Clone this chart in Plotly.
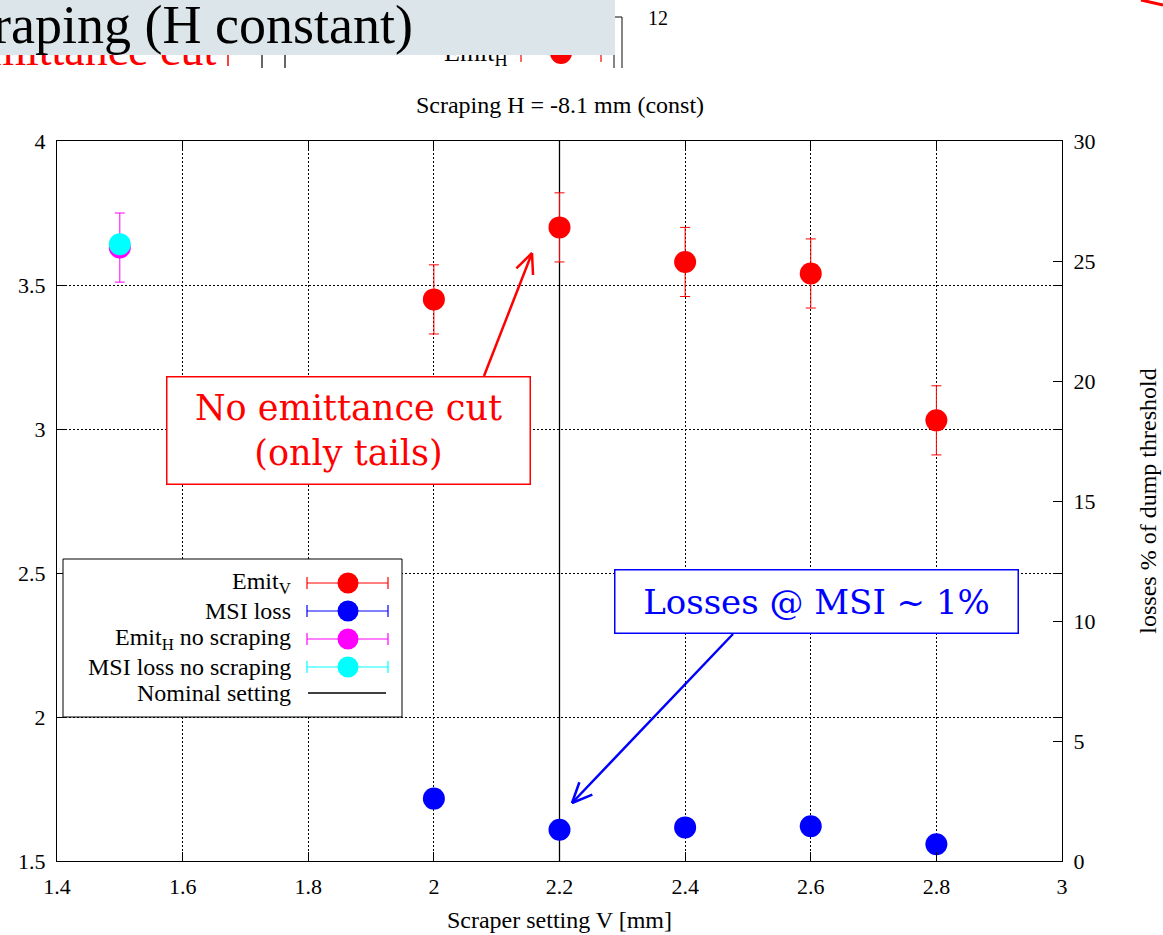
import math
import plotly.graph_objects as go

# --- measured values -------------------------------------------------------
scraper_v = [2.0, 2.2, 2.4, 2.6, 2.8]            # scraper setting V [mm]
emit_v = [3.45, 3.70, 3.58, 3.54, 3.03]          # vertical emittance
emit_v_err = [0.12, 0.12, 0.12, 0.12, 0.12]
msi_loss = [2.6, 1.3, 1.4, 1.45, 0.7]            # losses, % of dump threshold

ref_v = [1.5]                                    # reference point without scraping
emit_h_noscrape = [3.63]
emit_h_noscrape_err = [0.12]
msi_loss_noscrape = [25.7]

nominal_v = 2.2                                  # nominal scraper setting

x_ticks = [1.4, 1.6, 1.8, 2.0, 2.2, 2.4, 2.6, 2.8, 3.0]
y_ticks = [1.5, 2.0, 2.5, 3.0, 3.5, 4.0]
y2_ticks = [0, 5, 10, 15, 20, 25, 30]

# --- page geometry (pixels) -------------------------------------------------
W, H = 1163, 935
PL, PR, PT, PB = 57, 1062, 141, 861
GP = "Liberation Serif"
SLIDE = "DejaVu Serif"


def px(x):
    return (x - PL) / (PR - PL)


def py(y):
    return (PB - y) / (PB - PT)


fig = go.Figure()

fig.add_trace(go.Scatter(
    x=[nominal_v, nominal_v], y=[y_ticks[0], y_ticks[-1]], mode="lines",
    line=dict(color="black", width=1.3), name="Nominal setting"))

fig.add_trace(go.Scatter(
    x=scraper_v, y=emit_v, mode="markers", name="Emit_V",
    marker=dict(color="#ff0000", size=22),
    error_y=dict(type="data", array=emit_v_err, color="#ff0000",
                 thickness=1, width=5)))

fig.add_trace(go.Scatter(
    x=scraper_v, y=msi_loss, mode="markers", name="MSI loss", yaxis="y2",
    marker=dict(color="#0000ff", size=22)))

fig.add_trace(go.Scatter(
    x=ref_v, y=emit_h_noscrape, mode="markers", name="Emit_H no scraping",
    marker=dict(color="#ff00ff", size=22),
    error_y=dict(type="data", array=emit_h_noscrape_err, color="#ff00ff",
                 thickness=1, width=5)))

fig.add_trace(go.Scatter(
    x=ref_v, y=msi_loss_noscrape, mode="markers", name="MSI loss no scraping",
    yaxis="y2", marker=dict(color="#00ffff", size=22)))

shapes = []
annotations = []


def seg(x0, y0, x1, y1, color, width):
    shapes.append(dict(type="line", xref="paper", yref="paper",
                       x0=px(x0), y0=py(y0), x1=px(x1), y1=py(y1),
                       line=dict(color=color, width=width), layer="above"))


def dot(cx, cy, d, color):
    shapes.append(dict(type="circle", xref="paper", yref="paper",
                       xsizemode="pixel", ysizemode="pixel",
                       xanchor=px(cx), yanchor=py(cy),
                       x0=-d / 2, x1=d / 2, y0=-d / 2, y1=d / 2,
                       fillcolor=color, line=dict(width=0), layer="above"))


def arrow(x0, y0, x1, y1, color, width, head=22, spread=24):
    seg(x0, y0, x1, y1, color, width)
    ang = math.atan2(y0 - y1, x0 - x1)
    for s in (-1, 1):
        a = ang + s * math.radians(spread)
        seg(x1, y1, x1 + head * math.cos(a), y1 + head * math.sin(a), color, width)


def text(x, y, s, size, color="black", family=GP, xanchor="center",
         yanchor="middle", **kw):
    annotations.append(dict(xref="paper", yref="paper", x=px(x), y=py(y),
                            text=s, showarrow=False, xanchor=xanchor,
                            yanchor=yanchor,
                            font=dict(family=family, size=size, color=color),
                            **kw))


# --- key box drawn inside the plot ------------------------------------------
shapes.append(dict(type="rect", xref="paper", yref="paper",
                   x0=px(63), x1=px(402), y0=py(559), y1=py(717),
                   fillcolor="white", line=dict(color="black", width=1),
                   layer="above"))
key_rows = [
    ("Emit<sub>V</sub>", "#ff0000", 583),
    ("MSI loss", "#0000ff", 611),
    ("Emit<sub>H</sub> no scraping", "#ff00ff", 639),
    ("MSI loss no scraping", "#00ffff", 667),
]
for label, col, yy in key_rows:
    seg(307, yy, 388, yy, col, 1.2)
    seg(307, yy - 6, 307, yy + 6, col, 1.2)
    seg(388, yy - 6, 388, yy + 6, col, 1.2)
    dot(348, yy, 21, col)
    text(293, yy, label, 24, xanchor="right")
seg(308, 693, 386, 693, "black", 1.3)
text(293, 693, "Nominal setting", 24, xanchor="right")

# --- callouts ---------------------------------------------------------------
arrow(484, 376, 532, 253, "#ff0000", 2.5)
arrow(733, 634, 572, 803, "#0000ff", 2.5)
text(348.5, 430.5, "No emittance cut<br>(only tails)", 35, color="#ff0000",
     family=SLIDE, bgcolor="white", bordercolor="#ff0000", borderwidth=1.5,
     width=360, height=104, borderpad=1, align="center")
text(816.5, 601.5, "Losses @ MSI ~ 1%", 34, color="#0000ff",
     family=SLIDE, bgcolor="white", bordercolor="#0000ff", borderwidth=1.5,
     width=400, height=60, borderpad=1, align="center")

# --- slide header and what shows of the previous chart below it -------------
text(218, 49, "No emittance cut", 46, color="#ff0000", family=GP,
     xanchor="right")
seg(228, 55, 228, 66, "#ff0000", 1.5)
seg(262, 55, 262, 68, "black", 1.2)
seg(285, 55, 285, 68, "black", 1.2)
text(510, 54, "Emit<sub>H</sub>", 26, xanchor="right")
seg(521, 52, 521, 62, "#ff0000", 1.2)
seg(601, 52, 601, 62, "#ff0000", 1.2)
dot(561, 53, 22, "#ff0000")
seg(614, 28, 614, 68, "#333333", 1.2)
seg(606, 28, 614, 28, "#333333", 1.2)
seg(622, 17, 622, 68, "#333333", 1.2)
seg(611, 17, 622, 17, "#333333", 1.2)
text(658, 18, "12", 20)
seg(1141, 0, 1163, 5, "#ff0000", 3)

annotations.append(dict(xref="paper", yref="paper", x=px(0), y=py(0),
                        xanchor="left", yanchor="top", text=" ",
                        showarrow=False, width=615, height=55,
                        bgcolor="#dce6ea", borderpad=0, borderwidth=0))
text(415, 25, "Scraping (H constant)", 54, family=GP, xanchor="right")

axis_common = dict(showline=True, linecolor="black", linewidth=1,
                   ticks="inside", ticklen=9, tickcolor="black",
                   zeroline=False, tickfont=dict(family=GP, size=22,
                                                 color="black"))

fig.update_layout(
    width=W, height=H,
    margin=dict(l=PL, r=W - PR, t=PT, b=H - PB, autoexpand=False),
    paper_bgcolor="white", plot_bgcolor="white", showlegend=False,
    font=dict(family=GP, size=22, color="black"),
    title=dict(text="Scraping H = -8.1 mm (const)", x=560 / W, xanchor="center",
               y=1 - 105 / H, yanchor="middle",
               font=dict(family=GP, size=24, color="black")),
    xaxis=dict(range=[x_ticks[0], x_ticks[-1]], tickvals=x_ticks,
               ticktext=[f"{v:g}" for v in x_ticks], mirror="ticks",
               showgrid=True, gridcolor="black", gridwidth=1,
               griddash="2px,2px", ticklabelstandoff=6,
               title=dict(text="Scraper setting V [mm]", standoff=12,
                          font=dict(family=GP, size=24)),
               **axis_common),
    yaxis=dict(range=[y_ticks[0], y_ticks[-1]], tickvals=y_ticks,
               ticktext=[f"{v:g}" for v in y_ticks], mirror="ticks",
               showgrid=True, gridcolor="black", gridwidth=1,
               griddash="2px,2px", ticklabelstandoff=6, **axis_common),
    yaxis2=dict(range=[y2_ticks[0], y2_ticks[-1]], tickvals=y2_ticks,
                overlaying="y", side="right", showgrid=False,
                ticklabelstandoff=6,
                title=dict(text="losses % of dump threshold", standoff=44,
                           font=dict(family=GP, size=24)),
                **axis_common),
    shapes=shapes, annotations=annotations,
)

fig.write_html("out.html")
